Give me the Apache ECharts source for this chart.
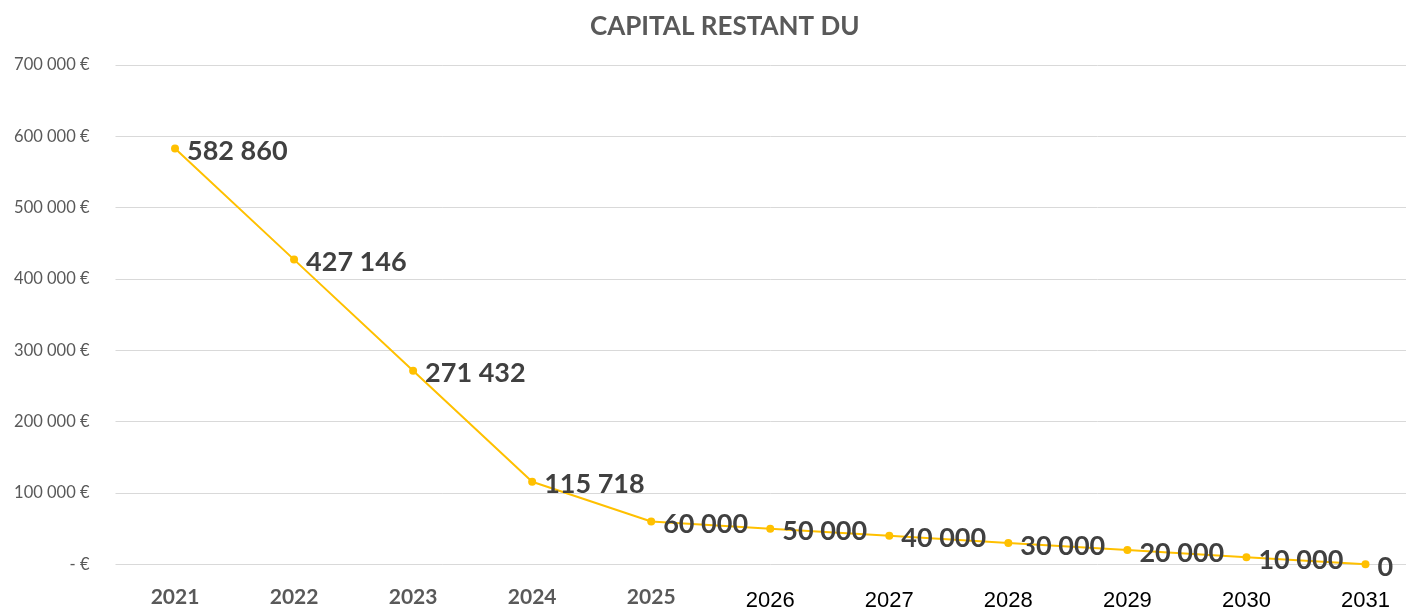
<!DOCTYPE html>
<html>
<head>
<meta charset="utf-8">
<script src="https://cdn.jsdelivr.net/npm/echarts@6/dist/echarts.min.js"></script>
<style>
  html, body { margin: 0; padding: 0; background: #fff; overflow: hidden; }
  /* the plot runs a little past the right edge of the window, like the original screenshot */
  #chart { width: 1425px; height: 613px; }
</style>
</head>
<body>
<div id="chart"></div>
<script>
// years on the x axis
const years = ['2021', '2022', '2023', '2024', '2025', '2026', '2027', '2028', '2029', '2030', '2031'];
// remaining capital per year
const capital = [582860, 427146, 271432, 115718, 60000, 50000, 40000, 30000, 20000, 10000, 0];

const fmtThousands = v => String(v).replace(/\B(?=(\d{3})+(?!\d))/g, ' ');

const chart = echarts.init(document.getElementById('chart'));
const option = {
  animation: false,
  backgroundColor: '#fff',
  title: {
    text: 'CAPITAL RESTANT DU',
    left: 585,
    top: 9,
    textStyle: { fontFamily: 'Lato', fontWeight: 'bold', fontSize: 26, color: '#595959' }
  },
  grid: { left: 115.5, right: 0, top: 65, bottom: 48.7, containLabel: false },
  xAxis: {
    type: 'category',
    data: years,
    boundaryGap: true,
    axisLine: { show: false },
    axisTick: { show: false },
    axisLabel: {
      margin: 21,
      interval: 0,
      formatter: (v, i) => (i < 5 ? '{a|' + v + '}' : '{b|' + v + '}'),
      rich: {
        a: { fontFamily: 'Lato', fontWeight: 'bold', fontSize: 21, color: '#595959', lineHeight: 24 },
        b: { fontFamily: 'Liberation Sans', fontSize: 22, color: '#000', lineHeight: 24, padding: [7, 0, 0, 0] }
      }
    }
  },
  yAxis: {
    type: 'value',
    min: 0,
    max: 700000,
    interval: 100000,
    axisLine: { show: false },
    axisTick: { show: false },
    splitLine: { lineStyle: { color: '#d9d9d9', width: 1 } },
    axisLabel: {
      margin: 26,
      fontFamily: 'Lato',
      fontSize: 16.5,
      color: '#595959',
      formatter: v => (v === 0 ? '- €' : fmtThousands(v) + ' €')
    }
  },
  series: [{
    type: 'line',
    data: capital,
    symbol: 'circle',
    symbolSize: 8,
    lineStyle: { color: '#FFC000', width: 2 },
    itemStyle: { color: '#FFC000' },
    label: {
      show: true,
      position: 'right',
      distance: 8,
      offset: [0, 3],
      fontFamily: 'Lato',
      fontWeight: 'bold',
      fontSize: 27,
      color: '#404040',
      formatter: p => fmtThousands(p.value)
    }
  }]
};
chart.setOption(option);
</script>
</body>
</html>
